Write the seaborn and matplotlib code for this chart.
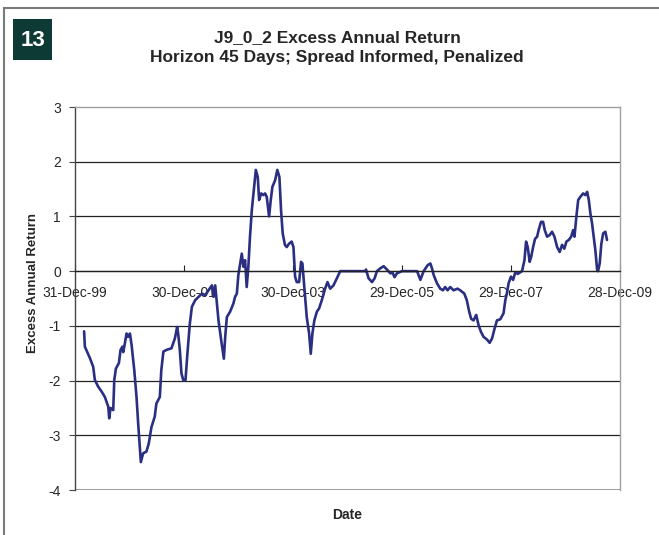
import matplotlib
matplotlib.use("Agg")
import matplotlib.pyplot as plt
from matplotlib.patches import Rectangle
import seaborn as sns
import pandas as pd

# ---- data ----
dates = [
    "2000-03-01", "2000-03-06", "2000-04-09", "2000-05-01", "2000-05-12", "2000-06-03",
    "2000-06-26", "2000-07-18", "2000-08-10", "2000-08-16", "2000-08-25", "2000-09-12",
    "2000-09-19", "2000-09-30", "2000-10-20", "2000-10-31", "2000-11-13", "2000-11-18",
    "2000-11-29", "2000-12-10", "2000-12-21", "2001-01-02", "2001-01-13", "2001-01-31",
    "2001-02-15", "2001-02-26", "2001-03-09", "2001-03-16", "2001-03-31", "2001-04-22",
    "2001-05-08", "2001-05-26", "2001-06-17", "2001-06-28", "2001-07-21", "2001-07-31",
    "2001-08-14", "2001-09-03", "2001-10-07", "2001-10-30", "2001-11-14", "2001-11-21",
    "2001-12-02", "2001-12-13", "2001-12-25", "2002-01-09", "2002-01-22", "2002-02-07",
    "2002-02-21", "2002-03-15", "2002-04-06", "2002-04-29", "2002-05-21", "2002-06-12",
    "2002-07-05", "2002-07-15", "2002-07-27", "2002-08-07", "2002-08-18", "2002-09-05",
    "2002-09-23", "2002-10-02", "2002-10-13", "2002-11-04", "2002-11-26", "2002-12-07",
    "2002-12-19", "2002-12-29", "2003-01-10", "2003-01-21", "2003-02-01", "2003-02-12",
    "2003-02-23", "2003-03-06", "2003-03-17", "2003-03-29", "2003-04-09", "2003-04-25",
    "2003-05-08", "2003-05-17", "2003-05-31", "2003-06-15", "2003-06-26", "2003-07-07",
    "2003-07-23", "2003-08-03", "2003-08-14", "2003-09-01", "2003-09-16", "2003-09-30",
    "2003-10-11", "2003-10-22", "2003-11-06", "2003-11-18", "2003-12-03", "2003-12-21",
    "2004-01-02", "2004-01-13", "2004-01-24", "2004-02-09", "2004-02-22", "2004-03-02",
    "2004-03-15", "2004-03-31", "2004-04-16", "2004-04-27", "2004-05-08", "2004-05-21",
    "2004-06-07", "2004-06-22", "2004-07-10", "2004-08-01", "2004-08-17", "2004-09-04",
    "2004-09-26", "2004-10-19", "2004-11-10", "2005-04-27", "2005-05-02", "2005-05-19",
    "2005-06-11", "2005-06-29", "2005-07-14", "2005-08-05", "2005-08-28", "2005-09-19",
    "2005-10-12", "2005-10-27", "2005-11-09", "2005-11-25", "2005-12-29", "2006-04-09",
    "2006-05-01", "2006-05-23", "2006-06-19", "2006-07-07", "2006-07-18", "2006-07-29",
    "2006-08-20", "2006-09-11", "2006-09-29", "2006-10-14", "2006-10-30", "2006-11-17",
    "2006-12-09", "2007-01-05", "2007-01-23", "2007-02-19", "2007-03-08", "2007-03-24",
    "2007-04-06", "2007-04-22", "2007-05-10", "2007-05-26", "2007-06-11", "2007-06-28",
    "2007-07-21", "2007-08-08", "2007-08-24", "2007-09-10", "2007-09-26", "2007-10-18",
    "2007-11-09", "2007-11-21", "2007-12-02", "2007-12-13", "2007-12-29", "2008-01-12",
    "2008-01-27", "2008-02-12", "2008-03-12", "2008-03-28", "2008-04-08", "2008-04-19",
    "2008-05-02", "2008-05-12", "2008-05-25", "2008-06-07", "2008-06-21", "2008-07-01",
    "2008-07-17", "2008-07-31", "2008-08-11", "2008-08-27", "2008-09-13", "2008-09-29",
    "2008-10-15", "2008-11-02", "2008-11-19", "2008-12-05", "2008-12-20", "2009-01-03",
    "2009-01-19", "2009-02-04", "2009-02-17", "2009-02-26", "2009-03-11", "2009-03-23",
    "2009-04-07", "2009-04-25", "2009-05-11", "2009-05-22", "2009-06-02", "2009-06-13",
    "2009-06-24", "2009-07-05", "2009-07-16", "2009-07-28", "2009-08-03", "2009-08-14",
    "2009-08-25", "2009-09-06", "2009-09-21", "2009-10-02",
]
excess_return = [
    -1.10, -1.38, -1.59, -1.75, -1.99, -2.11,
    -2.20, -2.30, -2.48, -2.69, -2.50, -2.54,
    -1.99, -1.78, -1.68, -1.44, -1.38, -1.48,
    -1.32, -1.14, -1.20, -1.14, -1.35, -1.81,
    -2.30, -2.78, -3.21, -3.49, -3.33, -3.30,
    -3.15, -2.85, -2.66, -2.42, -2.30, -1.81,
    -1.47, -1.44, -1.41, -1.23, -1.02, -1.14,
    -1.44, -1.87, -1.99, -1.99, -1.50, -0.96,
    -0.65, -0.53, -0.47, -0.41, -0.44, -0.35,
    -0.26, -0.47, -0.26, -0.59, -0.90, -1.26,
    -1.60, -1.20, -0.84, -0.74, -0.59, -0.47,
    -0.41, -0.07, 0.14, 0.32, 0.08, 0.20,
    -0.29, 0.08, 0.63, 1.11, 1.42, 1.85,
    1.72, 1.30, 1.42, 1.39, 1.42, 1.36,
    1.00, 1.30, 1.54, 1.66, 1.85, 1.72,
    1.11, 0.69, 0.48, 0.44, 0.50, 0.54,
    0.44, -0.10, -0.20, -0.20, 0.17, 0.14,
    -0.29, -0.84, -1.14, -1.51, -1.14, -0.90,
    -0.74, -0.68, -0.53, -0.32, -0.20, -0.32,
    -0.26, -0.13, 0.00, 0.00, 0.03, -0.13,
    -0.20, -0.13, 0.00, 0.05, 0.09, 0.03,
    -0.04, -0.03, -0.11, -0.04, 0.00, 0.00,
    -0.16, 0.00, 0.11, 0.14, 0.05, -0.07,
    -0.22, -0.32, -0.35, -0.29, -0.35, -0.29,
    -0.35, -0.32, -0.35, -0.41, -0.53, -0.74,
    -0.87, -0.90, -0.80, -0.99, -1.11, -1.20,
    -1.25, -1.31, -1.23, -1.05, -0.90, -0.88,
    -0.77, -0.53, -0.40, -0.22, -0.10, -0.16,
    -0.02, -0.05, 0.00, 0.20, 0.54, 0.44,
    0.17, 0.26, 0.44, 0.59, 0.63, 0.75,
    0.90, 0.90, 0.75, 0.63, 0.66, 0.72,
    0.63, 0.44, 0.35, 0.48, 0.41, 0.54,
    0.57, 0.63, 0.75, 0.63, 1.00, 1.30,
    1.36, 1.42, 1.39, 1.45, 1.30, 1.05,
    0.87, 0.63, 0.38, 0.02, 0.00, 0.14,
    0.50, 0.69, 0.72, 0.57,
]
tick_dates = ["1999-12-31", "2001-12-30", "2003-12-30", "2005-12-29", "2007-12-29", "2009-12-28"]
tick_labels = ["31-Dec-99", "30-Dec-01", "30-Dec-03", "29-Dec-05", "29-Dec-07", "28-Dec-09"]
y_ticks = [3, 2, 1, 0, -1, -2, -3, -4]

title = "J9_0_2 Excess Annual Return\nHorizon 45 Days; Spread Informed, Penalized"
badge = "13"

df = pd.DataFrame({"Date": pd.to_datetime(dates), "Excess": excess_return})

sns.set_style("white")
plt.rcParams["font.family"] = ["Liberation Sans", "DejaVu Sans"]

W, H = 659, 535
fig = plt.figure(figsize=(W / 100, H / 100), dpi=100)
ax = fig.add_axes([75 / W, (H - 490) / H, (620 - 75) / W, (490 - 107) / H])

sns.lineplot(data=df, x="Date", y="Excess", ax=ax, color="#2A2F82", linewidth=1.9)

ax.set_xlim(pd.Timestamp(tick_dates[0]), pd.Timestamp(tick_dates[-1]))
ax.set_ylim(-4, 3)

# gridlines
for yv in y_ticks:
    if yv in (3, -4):
        continue
    ax.axhline(yv, color="#222222", linewidth=0.9, zorder=0)
ax.axhline(-4, color="#8c8c8c", linewidth=1.2, zorder=0)

for s in ["top", "right"]:
    ax.spines[s].set_color("#a0a0a0")
    ax.spines[s].set_linewidth(1.0)
ax.spines["left"].set_color("#444444")
ax.spines["left"].set_linewidth(1.0)
ax.spines["bottom"].set_position(("data", 0))
ax.spines["bottom"].set_color("#222222")
ax.spines["bottom"].set_linewidth(0.9)

ax.set_yticks(y_ticks)
ax.set_yticklabels([str(v) for v in y_ticks])
ax.tick_params(axis="y", left=True, direction="out", length=4, width=0.8,
               color="#444444", labelsize=10, pad=6)

ax.set_xticks([pd.Timestamp(d) for d in tick_dates])
ax.set_xticklabels(tick_labels)
ax.tick_params(axis="x", bottom=True, direction="in", length=4, width=0.8,
               color="#222222", labelsize=10, pad=11)

ax.set_xlabel("")
ax.set_ylabel("Excess Annual Return", fontsize=9.5, fontweight="bold")
ax.yaxis.set_label_coords(-0.066, 0.54)

fig.text(347 / W, 1 - 515 / H, "Date", ha="center", va="center",
         fontsize=10, fontweight="bold")

fig.text(337 / W, 1 - 47.5 / H, title, ha="center", va="center",
         fontsize=12.5, fontweight="bold", linespacing=1.45)

# badge
fig.patches.append(Rectangle((13 / W, 1 - 60 / H), 39 / W, 41 / H,
                             transform=fig.transFigure, facecolor="#0D3A35",
                             edgecolor="none"))
fig.text(32.5 / W, 1 - 40 / H, badge, ha="center", va="center", color="white",
         fontsize=16, fontweight="bold")

# outer frame
fig.patches.append(Rectangle((4 / W, -0.05), 1.2, (H - 8) / H + 0.05,
                             transform=fig.transFigure, facecolor="none",
                             edgecolor="#7a7a7a", linewidth=1.5))

fig.savefig("out.png", dpi=100)
